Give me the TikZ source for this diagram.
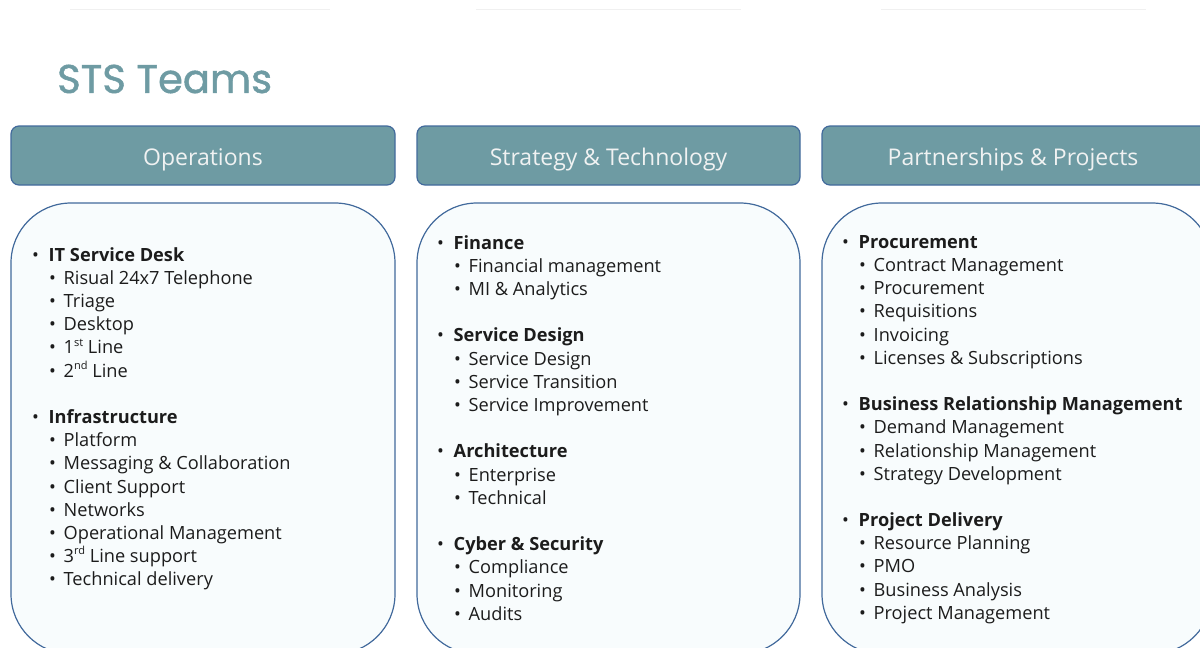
\documentclass[tikz,border=0pt]{standalone}
\usepackage{fontspec}
\setmainfont{Open Sans}
\newfontfamily\titlefont[FakeBold=1.2]{Poppins}
\definecolor{stsTeal}{RGB}{110,155,163}
\definecolor{stsBlue}{RGB}{66,106,156}
\definecolor{stsFill}{RGB}{248,252,253}
\definecolor{stsHead}{RGB}{240,242,242}
\definecolor{stsText}{RGB}{28,28,28}
\definecolor{stsRule}{RGB}{240,240,240}
\newcommand\hdb[1]{\makebox[16.5pt][l]{\textbullet}\textbf{#1}}
\newcommand\sbl[1]{\hspace*{17pt}\makebox[14.5pt][l]{\textbullet}#1}
\newcommand\sups[1]{\raisebox{0.42em}{\fontsize{11}{11}\selectfont #1}}
\tikzset{
  headbox/.style={draw=stsBlue, line width=1.2pt, fill=stsTeal, rounded corners=8pt},
  bodybox/.style={draw=stsBlue, line width=1.2pt, fill=stsFill, rounded corners=60pt},
  headtext/.style={text=stsHead, font=\fontsize{23}{27}\selectfont, inner sep=0pt, anchor=base},
  listtext/.style={text=stsText, font=\fontsize{18.2}{23.2}\selectfont, align=left, inner sep=0pt, anchor=north west},
  toprule/.style={draw=stsRule, line width=1pt}
}
\begin{document}
\begin{tikzpicture}[x=1pt,y=-1pt]
\useasboundingbox (0,0) rectangle (1200,648);
\clip (0,0) rectangle (1200,648);
\fill[white] (0,0) rectangle (1200,648);
% faint top rules
\coordinate (r1a) at (70,9); \coordinate (r1b) at (330,9);
\coordinate (r2a) at (476,9); \coordinate (r2b) at (741,9);
\coordinate (r3a) at (881,9); \coordinate (r3b) at (1146,9);
\draw[toprule] (r1a) -- (r1b);
\draw[toprule] (r2a) -- (r2b);
\draw[toprule] (r3a) -- (r3b);
% title
\node[anchor=west, inner sep=0pt, text=stsTeal, font=\titlefont\fontsize{40}{46}\selectfont] (title) at (57,79) {STS Teams};
% header boxes
\draw[headbox] (11,126) rectangle (395,185);
\draw[headbox] (417,126) rectangle (800,185);
\draw[headbox] (822,126) rectangle (1212,185);
\node[headtext] (h1) at (203,165) {Operations};
\node[headtext] (h2) at (608.5,165) {Strategy \& Technology};
\node[headtext] (h3) at (1013,165) {Partnerships \& Projects};
% body boxes
\draw[bodybox] (11,203) rectangle (395,654);
\draw[bodybox] (417,203) rectangle (800,654);
\draw[bodybox] (822,203) rectangle (1212,654);
% lists
\node[listtext] (c1) at (32,247) {%
\hdb{IT Service Desk}\\
\sbl{Risual 24x7 Telephone}\\
\sbl{Triage}\\
\sbl{Desktop}\\
\sbl{1\sups{st} Line}\\
\sbl{2\sups{nd} Line}\\[23.2pt]
\hdb{Infrastructure}\\
\sbl{Platform}\\
\sbl{Messaging \& Collaboration}\\
\sbl{Client Support}\\
\sbl{Networks}\\
\sbl{Operational Management}\\
\sbl{3\sups{rd} Line support}\\
\sbl{Technical delivery}};
\node[listtext] (c2) at (437,235) {%
\hdb{Finance}\\
\sbl{Financial management}\\
\sbl{MI \& Analytics}\\[23.2pt]
\hdb{Service Design}\\
\sbl{Service Design}\\
\sbl{Service Transition}\\
\sbl{Service Improvement}\\[23.2pt]
\hdb{Architecture}\\
\sbl{Enterprise}\\
\sbl{Technical}\\[23.2pt]
\hdb{Cyber \& Security}\\
\sbl{Compliance}\\
\sbl{Monitoring}\\
\sbl{Audits}};
\node[listtext] (c3) at (842,235) {%
\hdb{Procurement}\\
\sbl{Contract Management}\\
\sbl{Procurement}\\
\sbl{Requisitions}\\
\sbl{Invoicing}\\
\sbl{Licenses \& Subscriptions}\\[23.2pt]
\hdb{Business Relationship Management}\\
\sbl{Demand Management}\\
\sbl{Relationship Management}\\
\sbl{Strategy Development}\\[23.2pt]
\hdb{Project Delivery}\\
\sbl{Resource Planning}\\
\sbl{PMO}\\
\sbl{Business Analysis}\\
\sbl{Project Management}};
\end{tikzpicture}
\end{document}
